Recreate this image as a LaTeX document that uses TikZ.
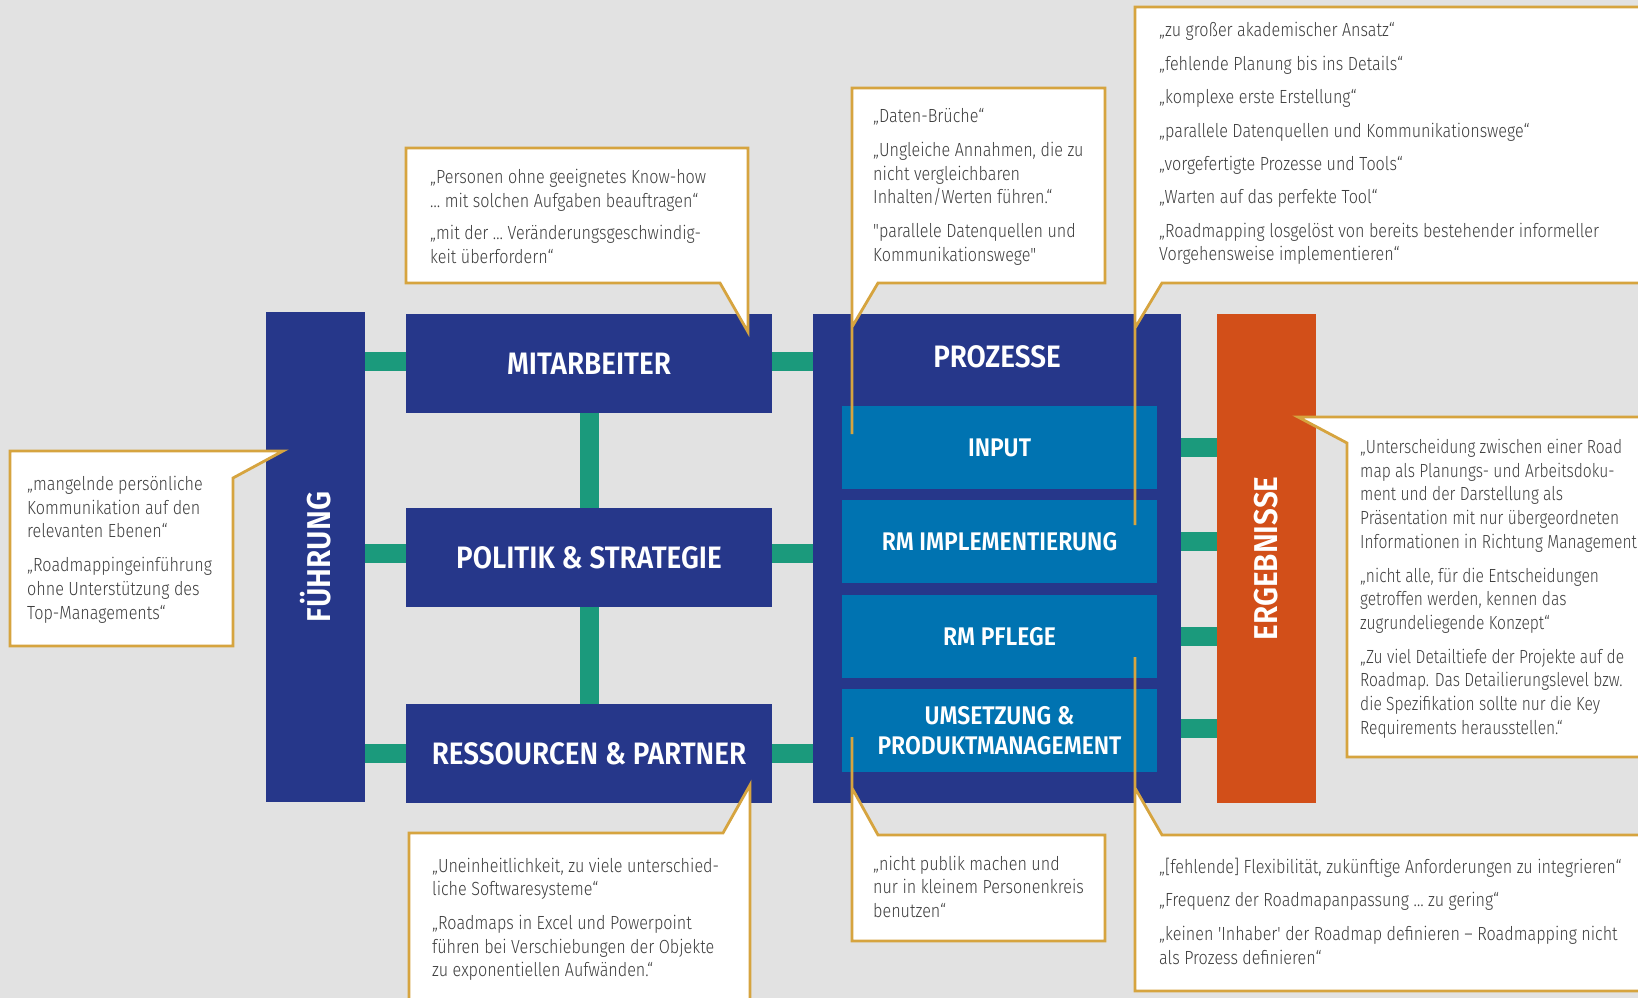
\documentclass[tikz,border=0pt]{standalone}
\usepackage{fontspec}
\setmainfont{Fira Sans}
\newfontfamily\lblfont[FakeStretch=0.9,BoldFont={Fira Sans SemiBold}]{Fira Sans}
\newfontfamily\ctfont[FakeStretch=0.85,Ligatures=TeXOff]{Fira Sans Light}
\newfontfamily\ctfontn[FakeStretch=0.82,Ligatures=TeXOff]{Fira Sans Light}
\definecolor{bgc}{HTML}{E2E2E2}
\definecolor{dblue}{HTML}{26378A}
\definecolor{lblue}{HTML}{0073B1}
\definecolor{gconn}{HTML}{1B9A7C}
\definecolor{orng}{HTML}{D24F19}
\definecolor{gold}{HTML}{D6A43F}
\definecolor{txt}{HTML}{3C3C3C}
\tikzset{
  mainbox/.style={fill=dblue, draw=none, inner sep=0pt, text=white, align=center,
    font=\lblfont\bfseries\fontsize{31}{31}\selectfont},
  subbox/.style={fill=lblue, draw=none, inner sep=0pt, text=white, align=center,
    minimum width=315pt, minimum height=83pt,
    font=\lblfont\bfseries\fontsize{25.5}{30}\selectfont},
  vlabel/.style={rotate=90, text=white, inner sep=0pt,
    font=\lblfont\bfseries\fontsize{33}{33}\selectfont},
  conn/.style={draw=gconn, line width=19pt},
  callout/.style={draw=gold, fill=white, line width=2.8pt},
  ctext/.style={text=txt, anchor=north west, inner sep=0pt, align=left,
    font=\ctfont\fontsize{19}{23.7}\selectfont}
}
\begin{document}
\begin{tikzpicture}[x=1pt,y=-1pt]
\useasboundingbox (0,0) rectangle (1638,998);
\clip (0,0) rectangle (1638,998);
\fill[bgc] (0,0) rectangle (1638,998);

% main boxes
\node[mainbox, minimum width=99pt, minimum height=490pt] (fuehrung) at (315.5,557) {};
\node[vlabel] (fuehrungtxt) at (fuehrung.center) {FÜHRUNG};
\node[mainbox, minimum width=366pt, minimum height=99pt] (mitarb) at (589,363.5) {MITARBEITER};
\node[mainbox, minimum width=366pt, minimum height=99pt] (politik) at (589,557.5) {POLITIK \& STRATEGIE};
\node[mainbox, minimum width=366pt, minimum height=99pt] (ress) at (589,753.5) {RESSOURCEN \& PARTNER};
\node[mainbox, minimum width=368pt, minimum height=489pt] (prozesse) at (997,558.5) {};
\node[text=white, inner sep=0pt, font=\lblfont\bfseries\fontsize{31}{31}\selectfont] (prozessetxt) at (997,357) {PROZESSE};
\node[subbox] (input) at (999.5,447.5) {INPUT};
\node[subbox] (impl) at (999.5,541.5) {RM IMPLEMENTIERUNG};
\node[subbox] (pflege) at (999.5,636.5) {RM PFLEGE};
\node[subbox] (umsetz) at (999.5,730.5) {UMSETZUNG \&\\PRODUKTMANAGEMENT};
\node[fill=orng, inner sep=0pt, minimum width=99pt, minimum height=489pt] (ergeb) at (1266.5,558.5) {};
\node[vlabel] (ergebtxt) at (ergeb.center) {ERGEBNISSE};

% connectors
\draw[conn] ([yshift=2pt]fuehrung.east |- mitarb.west) -- ([yshift=2pt]mitarb.west);
\draw[conn] ([yshift=4pt]fuehrung.east |- politik.west) -- ([yshift=4pt]politik.west);
\draw[conn] (fuehrung.east |- ress.west) -- (ress.west);
\draw[conn] ([yshift=2pt]mitarb.east) -- ([yshift=2pt]mitarb.east -| prozesse.west);
\draw[conn] ([yshift=4pt]politik.east) -- ([yshift=4pt]politik.east -| prozesse.west);
\draw[conn] (ress.east) -- (ress.east -| prozesse.west);
\draw[conn] (mitarb.south) -- (politik.north);
\draw[conn] (politik.south) -- (ress.north);
\draw[conn] (input.east -| prozesse.east) -- (input.east -| ergeb.west);
\draw[conn] (impl.east -| prozesse.east) -- (impl.east -| ergeb.west);
\draw[conn] (pflege.east -| prozesse.east) -- (pflege.east -| ergeb.west);
\draw[conn] ([yshift=2pt]umsetz.east -| prozesse.east) -- ([yshift=2pt]umsetz.east -| ergeb.west);

% callouts
\draw[callout] (10,451) -- (283,451) -- (233,478) -- (233,646) -- (10,646) -- cycle;
\draw[callout] (406,148) -- (748,148) -- (748,332) -- (720,283) -- (406,283) -- cycle;
\draw[callout] (852,434) -- (852,88) -- (1105,88) -- (1105,283) -- (878,283) -- (852,327);
\draw[callout] (1135,525) -- (1135,7) -- (1660,7) -- (1660,283) -- (1162,283) -- (1135,328);
\draw[callout] (1298,417) -- (1660,417) -- (1660,757) -- (1347,757) -- (1347,443) -- cycle;
\draw[callout] (409,833) -- (723,833) -- (750,785) -- (750,1010) -- (409,1010) -- cycle;
\draw[callout] (852,737) -- (852,941) -- (1105,941) -- (1105,835) -- (878,835) -- (852,788);
\draw[callout] (1135,657) -- (1135,991) -- (1660,991) -- (1660,835) -- (1162,835) -- (1135,788);

% callout texts
\node[ctext] (tfuehrung) at (27,476) {„mangelnde persönliche\\Kommunikation auf den\\relevanten Ebenen“\\[10pt]„Roadmappingeinführung\\ohne Unterstützung des\\Top-Managements“};
\node[ctext] (tmitarb) at (430,169) {„Personen ohne geeignetes Know-how\\… mit solchen Aufgaben beauftragen“\\[9pt]„mit der … Veränderungsgeschwindig-\\keit überfordern“};
\node[ctext] (tdaten) at (873,108.5) {„Daten-Brüche“\\[10pt]„Ungleiche Annahmen, die zu\\nicht vergleichbaren\\Inhalten/Werten führen.“\\[10pt]"parallele Datenquellen und\\Kommunikationswege"};
\node[ctext] (ttopright) at (1159,22.3) {„zu großer akademischer Ansatz“\\[9.7pt]„fehlende Planung bis ins Details“\\[9.7pt]„komplexe erste Erstellung“\\[9.7pt]„parallele Datenquellen und Kommunikationswege“\\[9.7pt]„vorgefertigte Prozesse und Tools“\\[9.7pt]„Warten auf das perfekte Tool“\\[9.7pt]„Roadmapping losgelöst von bereits bestehender informeller\\Vorgehensweise implementieren“};
\node[ctext, font=\ctfontn\fontsize{19}{23.7}\selectfont] (tergeb) at (1360,439) {„Unterscheidung zwischen einer Road\\map als Planungs- und Arbeitsdoku-\\ment und der Darstellung als\\Präsentation mit nur übergeordneten\\Informationen in Richtung Management\\[10pt]„nicht alle, für die Entscheidungen\\getroffen werden, kennen das\\zugrundeliegende Konzept“\\[10pt]„Zu viel Detailtiefe der Projekte auf de\\Roadmap. Das Detailierungslevel bzw.\\die Spezifikation sollte nur die Key\\Requirements herausstellen.“};
\node[ctext] (tress) at (432,857.5) {„Uneinheitlichkeit, zu viele unterschied-\\liche Softwaresysteme“\\[10pt]„Roadmaps in Excel und Powerpoint\\führen bei Verschiebungen der Objekte\\zu exponentiellen Aufwänden.“};
\node[ctext] (tpublik) at (873,855.5) {„nicht publik machen und\\nur in kleinem Personenkreis\\benutzen“};
\node[ctext] (tbottomright) at (1159,857.5) {„[fehlende] Flexibilität, zukünftige Anforderungen zu integrieren“\\[10pt]„Frequenz der Roadmapanpassung … zu gering“\\[10pt]„keinen 'Inhaber' der Roadmap definieren – Roadmapping nicht\\als Prozess definieren“};
\end{tikzpicture}
\end{document}
